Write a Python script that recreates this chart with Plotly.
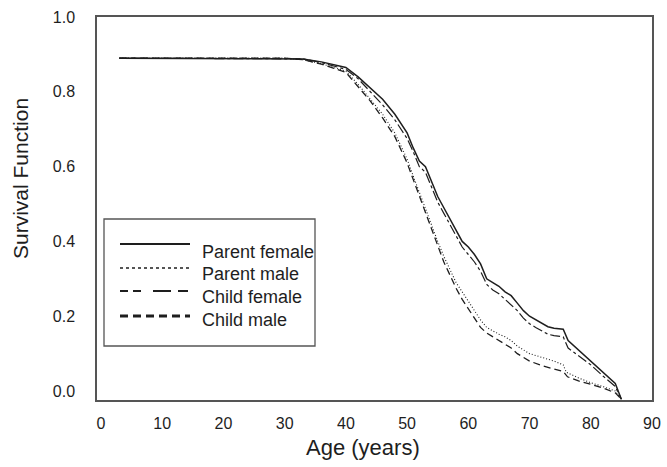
import plotly.graph_objects as go

# ---------------- data ----------------
age_pf = [3, 30, 33, 36, 40, 42, 44, 46, 48, 50, 51, 52, 53, 54, 55, 56, 57, 58, 59, 60, 61, 62, 63, 64, 65, 66, 67, 68, 69, 70, 71, 72, 73, 74, 75.5, 76.3, 78, 80, 82, 84, 85]
surv_pf = [0.89, 0.89, 0.888, 0.88, 0.865, 0.84, 0.81, 0.78, 0.74, 0.69, 0.65, 0.615, 0.60, 0.56, 0.52, 0.49, 0.46, 0.43, 0.40, 0.385, 0.365, 0.34, 0.30, 0.29, 0.28, 0.265, 0.255, 0.235, 0.215, 0.20, 0.19, 0.18, 0.172, 0.168, 0.165, 0.135, 0.11, 0.08, 0.05, 0.02, -0.022]

age_pm = [3, 30, 33, 36, 40, 42, 44, 46, 48, 50, 51, 52, 53, 54, 55, 56, 57, 58, 59, 60, 61, 62, 63, 64, 65, 66, 67, 68, 69, 70, 72, 74, 75.5, 76, 78, 80, 82, 84, 85]
surv_pm = [0.89, 0.89, 0.886, 0.875, 0.855, 0.82, 0.78, 0.74, 0.69, 0.62, 0.575, 0.53, 0.49, 0.445, 0.40, 0.36, 0.325, 0.29, 0.265, 0.24, 0.215, 0.19, 0.17, 0.16, 0.152, 0.145, 0.135, 0.12, 0.11, 0.10, 0.09, 0.08, 0.07, 0.05, 0.035, 0.022, 0.012, 0.0, -0.022]

age_cf = [3, 30, 33, 36, 40, 42, 44, 46, 48, 50, 51, 52, 53, 54, 55, 56, 57, 58, 59, 60, 61, 62, 63, 64, 65, 66, 67, 68, 69, 70, 71, 72, 73, 74, 75.5, 76.3, 78, 80, 82, 84, 85]
surv_cf = [0.89, 0.89, 0.888, 0.878, 0.86, 0.835, 0.80, 0.765, 0.725, 0.675, 0.64, 0.60, 0.585, 0.545, 0.505, 0.475, 0.445, 0.415, 0.385, 0.365, 0.345, 0.32, 0.285, 0.27, 0.26, 0.245, 0.23, 0.215, 0.195, 0.18, 0.17, 0.16, 0.152, 0.148, 0.145, 0.115, 0.095, 0.07, 0.04, 0.012, -0.022]

age_cm = [3, 30, 33, 36, 40, 42, 44, 46, 48, 50, 51, 52, 53, 54, 55, 56, 57, 58, 59, 60, 61, 62, 63, 64, 65, 66, 67, 68, 69, 70, 72, 74, 75.5, 76.2, 78, 80, 82, 84, 85]
surv_cm = [0.89, 0.89, 0.886, 0.874, 0.852, 0.815, 0.775, 0.73, 0.68, 0.61, 0.565, 0.52, 0.475, 0.43, 0.385, 0.345, 0.31, 0.275, 0.245, 0.22, 0.195, 0.17, 0.155, 0.145, 0.135, 0.125, 0.115, 0.10, 0.09, 0.08, 0.068, 0.058, 0.052, 0.038, 0.027, 0.018, 0.008, -0.005, -0.022]

series_names = ["Parent female", "Parent male", "Child female", "Child male"]
x_ticks = [0, 10, 20, 30, 40, 50, 60, 70, 80, 90]
y_ticks = [0.0, 0.2, 0.4, 0.6, 0.8, 1.0]
y_tick_labels = ["0.0", "0.2", "0.4", "0.6", "0.8", "1.0"]

# ---------------- styling ----------------
W, H = 667, 467
ML, MR, MT, MB = 97, 15, 17, 67
PW, PH = W - ML - MR, H - MT - MB
FONT = "Liberation Sans, Arial, Helvetica, sans-serif"
INK = "#1e1e1e"

styles = [
    dict(color=INK, width=1.5, dash="solid"),
    dict(color=INK, width=1.1, dash="1px,2px"),
    dict(color=INK, width=1.2, dash="10px,3px,3px,3px"),
    dict(color=INK, width=1.3, dash="7px,4px"),
]
legend_styles = [
    dict(color=INK, width=2.2, dash="solid"),
    dict(color=INK, width=1.6, dash="dot"),
    dict(color=INK, width=1.8, dash="8px,5px,8px,12px,18px,7px,10px,100px"),
    dict(color=INK, width=2.8, dash="8px,5px"),
]

def px(xp):
    return (xp - ML) / PW

def py(yp):
    return (H - MB - yp) / PH

fig = go.Figure()
for name, xs, ys, st in zip(series_names,
                            [age_pf, age_pm, age_cf, age_cm],
                            [surv_pf, surv_pm, surv_cf, surv_cm],
                            styles):
    fig.add_trace(go.Scatter(x=xs, y=ys, mode="lines", name=name, line=st,
                             showlegend=False))

# manual legend box
shapes = [dict(type="rect", xref="paper", yref="paper",
               x0=px(104), x1=px(315), y0=py(346), y1=py(219),
               line=dict(color="#555555", width=1.3), fillcolor="white", layer="above")]
annotations = []
line_y = [244, 268, 291, 316]
text_y = [252, 274, 297, 320]
for name, st, ly, ty in zip(series_names, legend_styles, line_y, text_y):
    shapes.append(dict(type="line", xref="paper", yref="paper",
                       x0=px(120), x1=px(190), y0=py(ly), y1=py(ly),
                       line=st, layer="above"))
    annotations.append(dict(text=name, xref="paper", yref="paper",
                            x=px(200), y=py(ty), xanchor="left", yanchor="middle",
                            showarrow=False, font=dict(family=FONT, size=18, color=INK)))

annotations.append(dict(text="Survival Function", xref="paper", yref="paper",
                        x=px(20), y=py(179), xanchor="center", yanchor="middle",
                        textangle=-90, showarrow=False,
                        font=dict(family=FONT, size=21, color=INK)))
annotations.append(dict(text="Age (years)", xref="paper", yref="paper",
                        x=px(363), y=py(447), xanchor="center", yanchor="middle",
                        showarrow=False, font=dict(family=FONT, size=22, color=INK)))

fig.update_layout(
    width=W, height=H,
    margin=dict(l=ML, r=MR, t=MT, b=MB, pad=0),
    paper_bgcolor="white", plot_bgcolor="white",
    font=dict(family=FONT, color=INK),
    shapes=shapes, annotations=annotations,
    showlegend=False,
)
fig.update_xaxes(range=[-0.65, 90], tickvals=x_ticks, ticks="", showgrid=False,
                 zeroline=False, showline=True, mirror=True, linecolor="#555555",
                 linewidth=1.5, tickfont=dict(family=FONT, size=16, color=INK),
                 ticklabelstandoff=8, automargin=False)
fig.update_yaxes(range=[-0.024, 1.0], tickvals=y_ticks, ticktext=y_tick_labels,
                 ticks="", showgrid=False, zeroline=False, showline=True, mirror=True,
                 linecolor="#555555", linewidth=1.5,
                 tickfont=dict(family=FONT, size=16, color=INK),
                 ticklabelstandoff=17, automargin=False)

fig.write_html("out.html", config={"displayModeBar": False},
               post_script="document.body.style.margin='0';document.body.style.overflow='hidden';")
